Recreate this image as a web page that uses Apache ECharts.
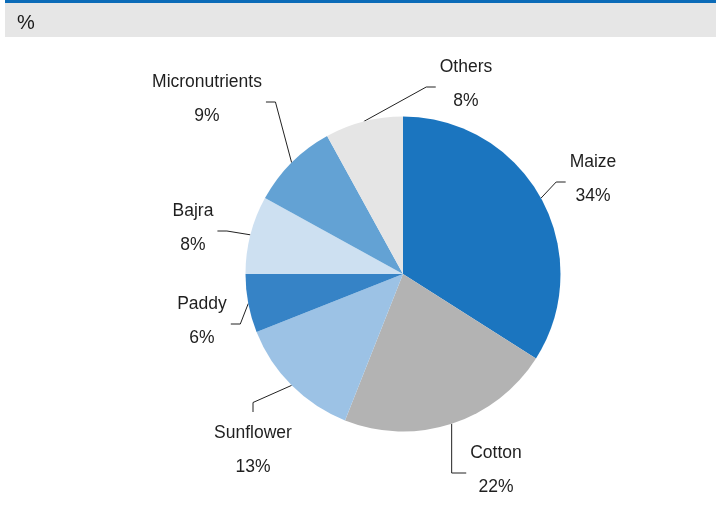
<!DOCTYPE html>
<html>
<head>
<meta charset="utf-8">
<script src="https://cdn.jsdelivr.net/npm/echarts@6/dist/echarts.min.js"></script>
<style>
  html, body { margin: 0; padding: 0; background: #fff; }
  #chart { width: 716px; height: 508px; }
</style>
</head>
<body>
<div id="chart"></div>
<script>
// Crop shares, in percent
const categories = ['Maize', 'Cotton', 'Sunflower', 'Paddy', 'Bajra', 'Micronutrients', 'Others'];
const shares = [34, 22, 13, 6, 8, 9, 8];
const sliceColors = ['#1b75bf', '#b3b3b3', '#9cc2e5', '#3683c6', '#cde0f1', '#63a2d4', '#e5e5e5'];
const unitLabel = '%';

// Where each two-line label sits, which edge its leader line attaches to,
// and whether the first leg of the leader drops straight down
const LABEL_SPOTS = {
  Maize:          { at: [593, 179], side: 'left' },
  Cotton:         { at: [496, 470], side: 'left', plumb: true },
  Sunflower:      { at: [253, 450], side: 'top' },
  Paddy:          { at: [202, 321], side: 'right' },
  Bajra:          { at: [193, 228], side: 'right' },
  Micronutrients: { at: [207, 99],  side: 'right' },
  Others:         { at: [466, 84],  side: 'left' }
};
const GAP = 4, HOOK = 9.5, DROP = 3;

const chart = echarts.init(document.getElementById('chart'), null, { renderer: 'canvas' });

const option = {
  animation: false,
  backgroundColor: '#ffffff',
  textStyle: { fontFamily: 'Liberation Sans, Arial, sans-serif' },
  graphic: [
    { type: 'rect', shape: { x: 5, y: 0, width: 711, height: 3 }, style: { fill: '#0b6bb8' }, silent: true },
    { type: 'rect', shape: { x: 5, y: 3, width: 711, height: 34 }, style: { fill: '#e6e6e6' }, silent: true },
    { type: 'text', left: 17, top: 13, style: { text: unitLabel, fontSize: 20, fill: '#1a1a1a', fontFamily: 'Liberation Sans, Arial, sans-serif' }, silent: true }
  ],
  series: [{
    type: 'pie',
    center: [403, 274],
    radius: 157.5,
    startAngle: 90,
    clockwise: true,
    avoidLabelOverlap: false,
    silent: true,
    emphasis: { disabled: true },
    itemStyle: { borderWidth: 0 },
    label: {
      show: true,
      position: 'outside',
      formatter: '{b}\n{c}%',
      fontSize: 17.5,
      lineHeight: 34,
      color: '#1f1f1f',
      fontFamily: 'Liberation Sans, Arial, sans-serif'
    },
    labelLine: {
      show: true,
      length: 15,
      length2: 10,
      lineStyle: { color: '#222', width: 1 }
    },
    labelLayout: function (params) {
      const spot = LABEL_SPOTS[categories[params.dataIndex]];
      const cx = spot.at[0], cy = spot.at[1];
      const w = params.labelRect.width, h = params.labelRect.height;
      const start = params.labelLinePoints[0];
      let end, elbow;
      if (spot.side === 'left') {
        end = [cx - w / 2 - GAP, cy + DROP];
        elbow = spot.plumb ? [start[0], end[1]] : [end[0] - HOOK, end[1]];
      } else if (spot.side === 'right') {
        end = [cx + w / 2 + GAP, cy + DROP];
        elbow = [end[0] + HOOK, end[1]];
      } else {
        end = [cx, cy - h / 2 - GAP];
        elbow = [cx, end[1] - HOOK];
      }
      return {
        x: cx,
        y: cy,
        align: 'center',
        verticalAlign: 'middle',
        labelLinePoints: [start, elbow, end]
      };
    },
    data: categories.map((name, i) => ({
      name: name,
      value: shares[i],
      itemStyle: { color: sliceColors[i] }
    }))
  }]
};

chart.setOption(option);
</script>
</body>
</html>
